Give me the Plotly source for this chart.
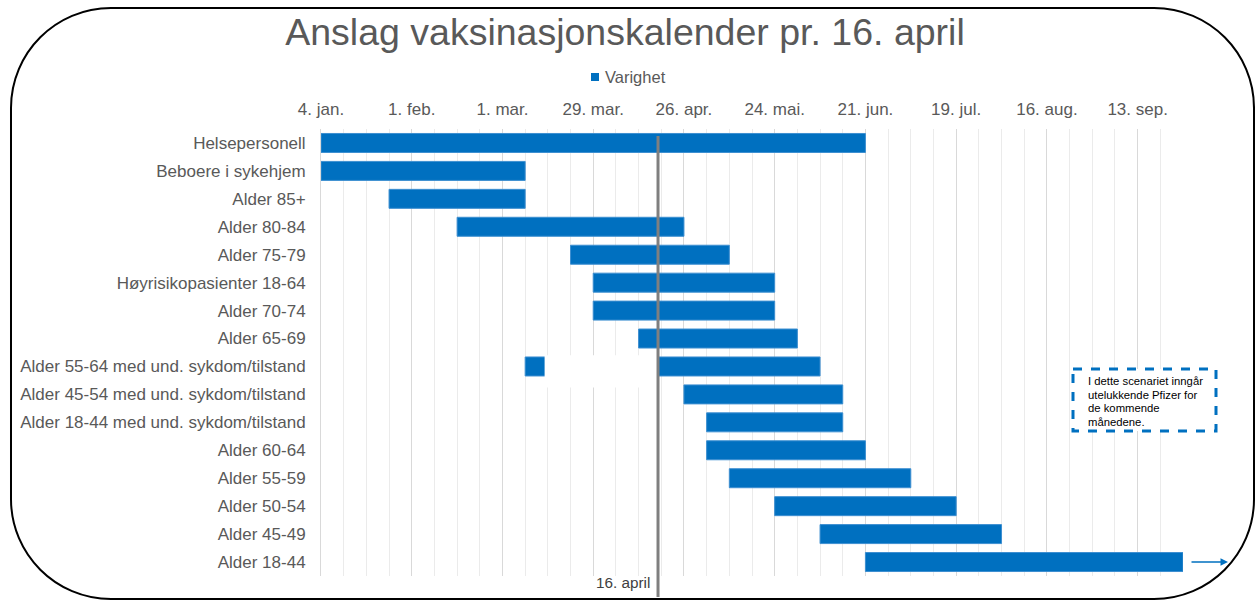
import pandas as pd
import plotly.graph_objects as go

# ---------------- data ----------------
groups = [
    "Helsepersonell", "Beboere i sykehjem", "Alder 85+", "Alder 80-84", "Alder 75-79",
    "Høyrisikopasienter 18-64", "Alder 70-74", "Alder 65-69",
    "Alder 55-64 med und. sykdom/tilstand", "Alder 45-54 med und. sykdom/tilstand",
    "Alder 18-44 med und. sykdom/tilstand", "Alder 60-64", "Alder 55-59",
    "Alder 50-54", "Alder 45-49", "Alder 18-44",
]
start_dates = [
    "2021-01-04", "2021-01-04", "2021-01-25", "2021-02-15", "2021-03-22",
    "2021-03-29", "2021-03-29", "2021-04-12", "2021-03-08", "2021-04-26",
    "2021-05-03", "2021-05-03", "2021-05-10", "2021-05-24", "2021-06-07", "2021-06-21",
]
end_dates = [
    "2021-06-21", "2021-03-08", "2021-03-08", "2021-04-26", "2021-05-10",
    "2021-05-24", "2021-05-24", "2021-05-31", "2021-06-07", "2021-06-14",
    "2021-06-14", "2021-06-21", "2021-07-05", "2021-07-19", "2021-08-02", "2021-09-27",
]
# hidden part of the "Alder 55-64 med und." bar
hidden_group = "Alder 55-64 med und. sykdom/tilstand"
hidden_start = "2021-03-14"
hidden_end = "2021-04-18"

tick_dates = ["2021-01-04", "2021-02-01", "2021-03-01", "2021-03-29", "2021-04-26",
              "2021-05-24", "2021-06-21", "2021-07-19", "2021-08-16", "2021-09-13"]
tick_labels = ["4. jan.", "1. feb.", "1. mar.", "29. mar.", "26. apr.",
               "24. mai.", "21. jun.", "19. jul.", "16. aug.", "13. sep."]
today_line = "2021-04-18"   # where the "16. april" marker line is drawn in the source
today_label = "16. april"
x_range = ["2021-01-04", "2021-09-27"]
series_name = "Varighet"
note_lines = ["I dette scenariet inngår", "utelukkende Pfizer for", "de kommende", "månedene."]

# ---------------- layout geometry (pixels) ----------------
W, H = 1255, 601
PL, PR, PT, PB = 321, 1183, 129, 576
def px(x):
    return (x - PL) / (PR - PL)
def py(y):
    return (PB - y) / (PB - PT)

FONT = "Liberation Sans, Arial, sans-serif"
GREY = "#595959"
BLUE = "#0070C0"

dur_ms = ((pd.to_datetime(end_dates) - pd.to_datetime(start_dates)).days * 86400000).tolist()

fig = go.Figure()
fig.add_trace(go.Bar(
    y=groups, x=dur_ms, base=start_dates, orientation="h",
    name=series_name, width=0.68, showlegend=False,
    marker=dict(color=BLUE, line=dict(color="#3D8FD1", width=1)),
))

shapes = []
# white cover over part of the 55-64 bar
hi = groups.index(hidden_group)
shapes.append(dict(type="rect", xref="x", yref="y", x0=hidden_start, x1=hidden_end,
                   y0=hi - 0.4, y1=hi + 0.75, fillcolor="white", line=dict(width=0), layer="above"))
# today line
shapes.append(dict(type="line", xref="x", yref="paper", x0=today_line, x1=today_line,
                   y0=py(136), y1=py(597), line=dict(color="#7F7F7F", width=3), layer="above"))
# dashed note box
shapes.append(dict(type="rect", xref="paper", yref="paper", x0=px(1073), x1=px(1216),
                   y0=py(369), y1=py(431), line=dict(color=BLUE, width=3, dash="dash"),
                   fillcolor="white", layer="above"))
# legend marker
shapes.append(dict(type="rect", xref="paper", yref="paper", x0=px(591), x1=px(599),
                   y0=py(81), y1=py(73), fillcolor=BLUE, line=dict(width=0)))
# rounded border
L, T, R, B, r = 11, 8, 1254, 599, 100
k = 0.5523 * r
def P(x, y):
    return f"{px(x):.5f},{py(y):.5f}"
path = (f"M{P(L+r,T)} L{P(R-r,T)} C{P(R-r+k,T)} {P(R,T+r-k)} {P(R,T+r)} "
        f"L{P(R,B-r)} C{P(R,B-r+k)} {P(R-r+k,B)} {P(R-r,B)} "
        f"L{P(L+r,B)} C{P(L+r-k,B)} {P(L,B-r+k)} {P(L,B-r)} "
        f"L{P(L,T+r)} C{P(L,T+r-k)} {P(L+r-k,T)} {P(L+r,T)} Z")
shapes.append(dict(type="path", xref="paper", yref="paper", path=path,
                   line=dict(color="black", width=2), layer="above"))

annotations = [
    dict(text=series_name, xref="paper", yref="paper", x=px(603), y=py(77), xanchor="left",
         yanchor="middle", showarrow=False, font=dict(family=FONT, size=16.5, color=GREY)),
    dict(text=today_label, xref="x", yref="paper", x=today_line, y=py(582), xanchor="right",
         yanchor="middle", xshift=-6, showarrow=False, font=dict(family=FONT, size=15.3, color="#404040")),
    dict(text="", xref="paper", yref="y", x=px(1228), y=groups[-1], ax=-38, ay=0,
         axref="pixel", ayref="pixel", showarrow=True, arrowhead=2, arrowsize=1,
         arrowwidth=1.5, arrowcolor=BLUE),
]
for i, line in enumerate(note_lines):
    annotations.append(dict(text=line, xref="paper", yref="paper", x=px(1086),
                            y=py(381 + 13.5 * i), xanchor="left", yanchor="middle",
                            showarrow=False, font=dict(family=FONT, size=11.3, color="black")))

fig.update_layout(
    width=W, height=H,
    margin=dict(l=PL, r=W - PR, t=PT, b=H - PB, pad=0),
    paper_bgcolor="white", plot_bgcolor="white",
    font=dict(family=FONT, color=GREY),
    title=dict(text="Anslag vaksinasjonskalender pr. 16. april", x=0.498, xanchor="center",
               xref="container", y=1 - 32 / H, yanchor="middle", yref="container",
               font=dict(family=FONT, size=37.5, color=GREY)),
    showlegend=False,
    xaxis=dict(type="date", side="top", range=x_range, tickmode="array",
               tickvals=tick_dates, ticktext=tick_labels, showgrid=True,
               gridcolor="#D9D9D9", gridwidth=1, zeroline=False, showline=False,
               ticks="outside", ticklen=6, tickcolor="rgba(0,0,0,0)",
               tickfont=dict(family=FONT, size=17, color=GREY),
               minor=dict(tickmode="linear", tick0="2021-01-04", dtick=7 * 86400000,
                          showgrid=True, gridcolor="#EBEBEB", gridwidth=1, ticks="")),
    yaxis=dict(type="category", categoryorder="array", categoryarray=groups,
               range=[len(groups) - 0.5, -0.5], showgrid=False, zeroline=False,
               showline=True, linecolor="#D9D9D9", linewidth=1,
               ticks="outside", ticklen=11, tickcolor="rgba(0,0,0,0)",
               tickfont=dict(family=FONT, size=17, color=GREY)),
    shapes=shapes,
    annotations=annotations,
    bargap=0.3,
)

fig.write_html("out.html", config={"displayModeBar": False},
               post_script="document.body.style.margin='0';")
